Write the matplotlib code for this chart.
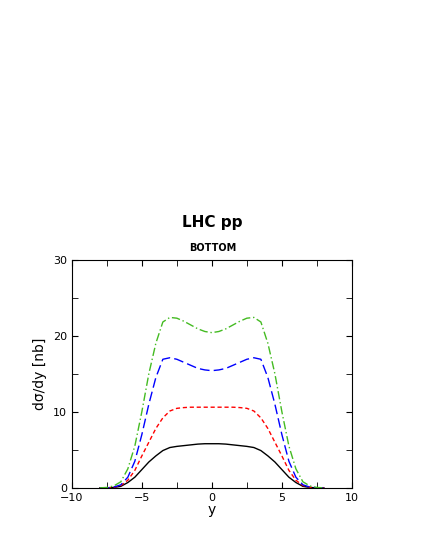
import numpy as np
import matplotlib
matplotlib.use("Agg")
import matplotlib.pyplot as plt
from matplotlib.ticker import MultipleLocator

# half curves (y >= 0), mirrored for y < 0
y_half = [0, 0.5, 1, 1.5, 2, 2.5, 3, 3.5, 4, 4.5, 5, 5.5, 6, 6.5, 7, 7.5, 8]
black = [5.8, 5.8, 5.75, 5.65, 5.55, 5.45, 5.3, 4.9, 4.2, 3.4, 2.4, 1.4, 0.7, 0.2, 0.05, 0.0, 0.0]
red = [10.6, 10.6, 10.6, 10.6, 10.55, 10.45, 10.1, 9.2, 7.8, 6.0, 4.2, 2.3, 1.0, 0.3, 0.08, 0.0, 0.0]
blue = [15.4, 15.5, 15.7, 16.1, 16.5, 16.9, 17.1, 16.9, 14.5, 11.0, 7.0, 3.5, 1.4, 0.4, 0.1, 0.0, 0.0]
green = [20.4, 20.55, 20.9, 21.4, 21.9, 22.3, 22.4, 21.8, 19.0, 15.0, 10.0, 5.5, 2.5, 0.8, 0.25, 0.05, 0.0]


def mirror(vals):
    x = np.concatenate([-np.array(y_half[:0:-1]), y_half])
    v = np.concatenate([vals[:0:-1], vals])
    return x, v


fig = plt.figure(figsize=(4.25, 5.5), dpi=100)
ax = fig.add_axes([0.169, 0.113, 0.659, 0.415])

styles = [(black, "black", "-"), (red, "red", (0, (3, 2))),
          (blue, "blue", (0, (7, 3))), (green, "#44bb22", (0, (6, 2, 1, 2)))]
for vals, col, ls in styles:
    x, v = mirror(vals)
    ax.plot(x, v, color=col, linestyle=ls, linewidth=1)

ax.set_xlim(-10, 10)
ax.set_ylim(0, 30)
ax.xaxis.set_major_locator(MultipleLocator(5))
ax.xaxis.set_minor_locator(MultipleLocator(2.5))
ax.yaxis.set_major_locator(MultipleLocator(10))
ax.yaxis.set_minor_locator(MultipleLocator(5))
ax.tick_params(which="both", direction="in", top=True, right=True, labelsize=8)
ax.tick_params(which="major", length=4)
ax.tick_params(which="minor", length=4)
ax.set_xlabel("y", fontsize=10, labelpad=0)
ax.set_ylabel("dσ/dy [nb]", fontsize=10)

fig.text(0.5, 0.588, "LHC pp", ha="center", fontsize=11, fontweight="bold")
fig.text(0.5, 0.543, "BOTTOM", ha="center", fontsize=7, fontweight="bold")

fig.savefig("out.png", dpi=100)
